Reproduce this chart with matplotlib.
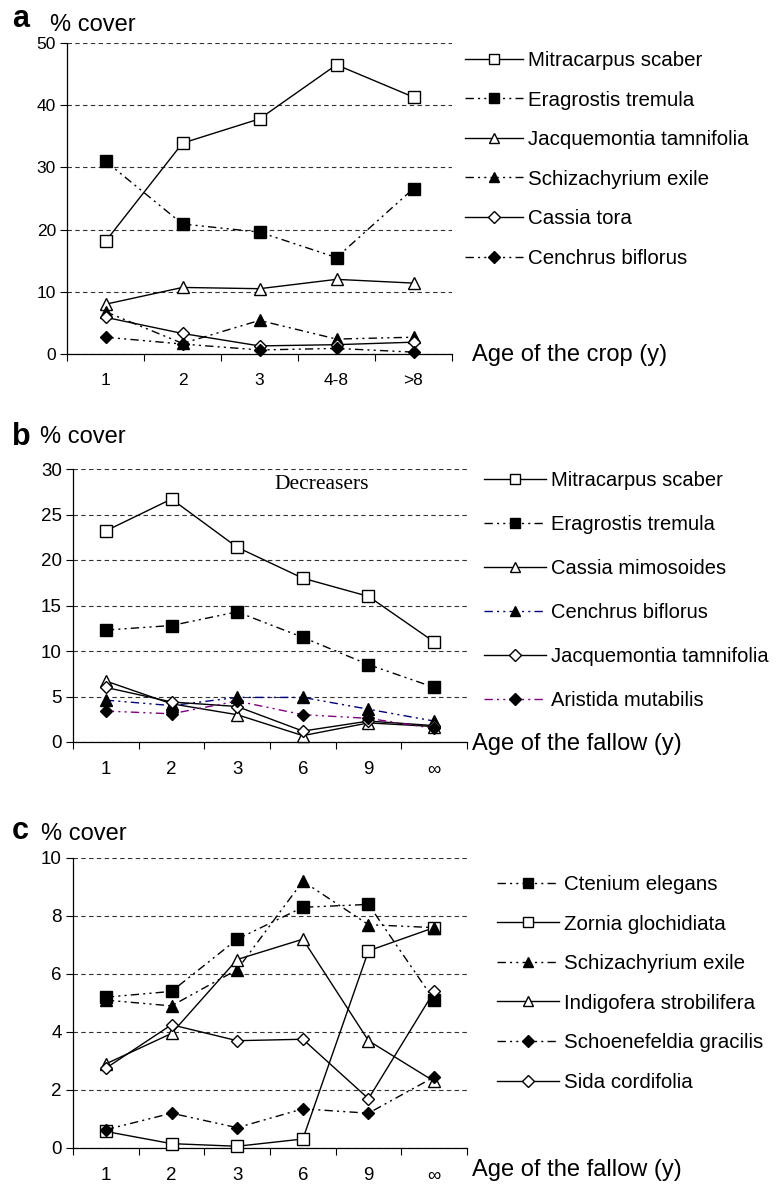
import matplotlib
matplotlib.use('Agg')
import matplotlib.pyplot as plt
from matplotlib.lines import Line2D
import numpy as np

plt.rcParams['font.family'] = ['Liberation Sans', 'DejaVu Sans']

# panel a: age of the crop
ages_crop = ['1', '2', '3', '4-8', '>8']
a_mitracarpus = [18.1, 33.9, 37.8, 46.5, 41.3]
a_eragrostis = [31.0, 20.9, 19.6, 15.5, 26.6]
a_jacquemontia = [8.0, 10.7, 10.5, 12.0, 11.4]
a_schizachyrium = [6.8, 1.7, 5.4, 2.4, 2.7]
a_cassia_tora = [5.9, 3.3, 1.3, 1.5, 1.9]
a_cenchrus = [2.7, 1.6, 0.65, 0.9, 0.3]

# panel b: age of the fallow, decreasers
ages_fallow = ['1', '2', '3', '6', '9', '\u221e']
b_mitracarpus = [23.2, 26.7, 21.4, 18.0, 16.0, 11.0]
b_eragrostis = [12.3, 12.8, 14.3, 11.5, 8.5, 6.0]
b_cassia_mim = [6.7, 4.2, 3.0, 0.7, 2.1, 1.7]
b_cenchrus = [4.6, 4.0, 4.9, 4.9, 3.6, 2.3]
b_jacquemontia = [6.0, 4.4, 3.9, 1.2, 2.3, 1.8]
b_aristida = [3.4, 3.1, 4.5, 3.0, 2.6, 1.5]

# panel c: age of the fallow, increasers
c_ctenium = [5.2, 5.4, 7.2, 8.3, 8.4, 5.1]
c_zornia = [0.57, 0.15, 0.06, 0.31, 6.8, 7.6]
c_schizachyrium = [5.1, 4.9, 6.15, 9.2, 7.7, 7.6]
c_indigofera = [2.9, 3.95, 6.5, 7.2, 3.7, 2.3]
c_schoenefeldia = [0.63, 1.2, 0.7, 1.35, 1.2, 2.45]
c_sida = [2.75, 4.25, 3.7, 3.75, 1.7, 5.4]

W, H = 779, 1185
fig = plt.figure(figsize=(W / 100, H / 100), dpi=100)

DDOT = (0, (6, 3, 1.5, 3, 1.5, 3))
SOLID = '-'


def px_axes(left, right, top, bottom):
    return fig.add_axes([left / W, 1 - bottom / H, (right - left) / W, (bottom - top) / H])


def setup(ax, cats, ymax, ystep, fs):
    n = len(cats)
    ax.set_xlim(0.5, n + 0.5)
    ax.set_ylim(0, ymax)
    ax.set_xticks(np.arange(1, n + 1))
    ax.set_xticklabels(cats, fontsize=fs)
    ax.set_xticks(np.arange(0.5, n + 1), minor=True)
    ax.tick_params(axis='x', which='major', length=0, pad=14)
    ax.tick_params(axis='x', which='minor', length=5, direction='out', width=0.8)
    ax.set_yticks(np.arange(0, ymax + 0.01, ystep))
    ax.tick_params(axis='y', length=5, width=0.8, labelsize=fs, pad=3)
    for s in ['top', 'right']:
        ax.spines[s].set_visible(False)
    for s in ['left', 'bottom']:
        ax.spines[s].set_linewidth(0.9)
    ax.yaxis.grid(True, linestyle=(0, (4, 3)), color='#333333', linewidth=0.8)
    ax.set_axisbelow(True)


def draw(ax, x, y, style, marker, fill, color='black', ms=8):
    face = 'black' if fill else 'white'
    ax.plot(x, y, linestyle=style, color=color, linewidth=1.0, marker=marker,
            markersize=ms, markerfacecolor=face, markeredgecolor='black',
            markeredgewidth=1.0, clip_on=False, zorder=3)
    return Line2D([], [], linestyle=style, color=color, linewidth=1.0, marker=marker,
                  markersize=ms * 0.9, markerfacecolor=face, markeredgecolor='black',
                  markeredgewidth=1.0)


def legend(ax, handles, labels, x, y, hl, spacing, fs=14.8):
    ax.legend(handles, labels, loc='upper left', bbox_to_anchor=(x / W, 1 - y / H),
              bbox_transform=fig.transFigure, frameon=False, fontsize=fs,
              handlelength=hl, handletextpad=0.25, labelspacing=spacing,
              borderpad=0, borderaxespad=0)


# ---- panel a
ax = px_axes(67, 452, 43, 354)
setup(ax, ages_crop, 50, 10, 12.5)
xa = np.arange(1, len(ages_crop) + 1)
ha = [
    draw(ax, xa, a_mitracarpus, SOLID, 's', False),
    draw(ax, xa, a_eragrostis, DDOT, 's', True),
    draw(ax, xa, a_jacquemontia, SOLID, '^', False),
    draw(ax, xa, a_schizachyrium, DDOT, '^', True),
    draw(ax, xa, a_cassia_tora, SOLID, 'D', False, ms=6.5),
    draw(ax, xa, a_cenchrus, DDOT, 'D', True, ms=6.5),
]
la = ['Mitracarpus scaber', 'Eragrostis tremula', 'Jacquemontia tamnifolia',
      'Schizachyrium exile', 'Cassia tora', 'Cenchrus biflorus']
legend(ax, ha, la, 465, 51, 2.8, 1.0)
fig.text(472 / W, 1 - 355 / H, 'Age of the crop (y)', fontsize=17, va='center')
fig.text(12 / W, 1 - 27 / H, 'a', fontsize=22, fontweight='bold', va='baseline')
fig.text(50 / W, 1 - 31 / H, '% cover', fontsize=17, va='baseline')

# ---- panel b
ax = px_axes(73, 467, 469, 742)
setup(ax, ages_fallow, 30, 5, 13.5)
xf = np.arange(1, len(ages_fallow) + 1)
hb = [
    draw(ax, xf, b_mitracarpus, SOLID, 's', False),
    draw(ax, xf, b_eragrostis, DDOT, 's', True),
    draw(ax, xf, b_cassia_mim, SOLID, '^', False),
    draw(ax, xf, b_cenchrus, DDOT, '^', True, color='#000080'),
    draw(ax, xf, b_jacquemontia, SOLID, 'D', False, ms=6.5),
    draw(ax, xf, b_aristida, DDOT, 'D', True, color='#800080', ms=6.5),
]
lb = ['Mitracarpus scaber', 'Eragrostis tremula', 'Cassia mimosoides',
      'Cenchrus biflorus', 'Jacquemontia tamnifolia', 'Aristida mutabilis']
legend(ax, hb, lb, 484, 471, 3.1, 1.24, fs=14.5)
ax.text(0.63, 0.945, 'Decreasers', transform=ax.transAxes, fontsize=15.5,
        family='Liberation Serif', ha='center', va='center')
fig.text(472 / W, 1 - 744 / H, 'Age of the fallow (y)', fontsize=17, va='center')
fig.text(12 / W, 1 - 445 / H, 'b', fontsize=22, fontweight='bold', va='baseline')
fig.text(40 / W, 1 - 443 / H, '% cover', fontsize=17, va='baseline')

# ---- panel c
ax = px_axes(73, 467, 858, 1148)
setup(ax, ages_fallow, 10, 2, 13.5)
hc = [
    draw(ax, xf, c_ctenium, DDOT, 's', True),
    draw(ax, xf, c_zornia, SOLID, 's', False),
    draw(ax, xf, c_schizachyrium, DDOT, '^', True),
    draw(ax, xf, c_indigofera, SOLID, '^', False),
    draw(ax, xf, c_schoenefeldia, DDOT, 'D', True, ms=6.5),
    draw(ax, xf, c_sida, SOLID, 'D', False, ms=6.5),
]
lc = ['Ctenium elegans', 'Zornia glochidiata', 'Schizachyrium exile',
      'Indigofera strobilifera', 'Schoenefeldia gracilis', 'Sida cordifolia']
legend(ax, hc, lc, 497, 875, 3.0, 1.0)
fig.text(472 / W, 1 - 1170 / H, 'Age of the fallow (y)', fontsize=17, va='center')
fig.text(12 / W, 1 - 839 / H, 'c', fontsize=22, fontweight='bold', va='baseline')
fig.text(41 / W, 1 - 840 / H, '% cover', fontsize=17, va='baseline')

fig.savefig('out.png', dpi=100)
